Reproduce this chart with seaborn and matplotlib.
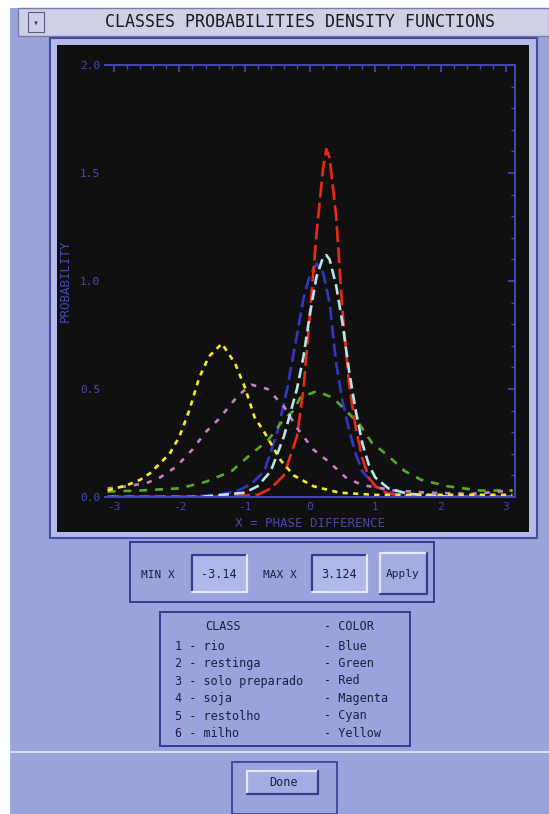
import numpy as np
import pandas as pd
import matplotlib
matplotlib.use("Agg")
import matplotlib.pyplot as plt
from matplotlib.patches import Rectangle
import seaborn as sns

# ----------------------------
# data
# ----------------------------
class_ids = ["1", "2", "3", "4", "5", "6"]
class_names = ["rio", "restinga", "solo preparado", "soja", "restolho", "milho"]
color_names = ["Blue", "Green", "Red", "Magenta", "Cyan", "Yellow"]

x_rio = [-3.1, -2.0, -1.4, -1.1, -0.9, -0.7, -0.5, -0.35, -0.2, -0.1, 0.0, 0.1, 0.2, 0.3, 0.4, 0.5, 0.6, 0.7, 0.8, 1.0, 1.3, 2.0, 3.1]
y_rio = [0.0, 0.0, 0.01, 0.03, 0.06, 0.12, 0.30, 0.50, 0.75, 0.92, 1.03, 1.08, 1.04, 0.90, 0.62, 0.44, 0.31, 0.20, 0.12, 0.05, 0.015, 0.0, 0.0]

x_restinga = [-3.1, -2.6, -2.0, -1.6, -1.2, -0.9, -0.65, -0.4, -0.25, -0.15, 0.1, 0.35, 0.55, 0.75, 0.95, 1.2, 1.45, 1.7, 2.1, 2.6, 3.1]
y_restinga = [0.025, 0.03, 0.04, 0.07, 0.12, 0.20, 0.26, 0.36, 0.40, 0.46, 0.49, 0.46, 0.40, 0.34, 0.25, 0.19, 0.12, 0.08, 0.05, 0.03, 0.03]

x_solo = [-3.1, -1.6, -0.8, -0.6, -0.4, -0.2, -0.1, 0.0, 0.1, 0.2, 0.25, 0.3, 0.4, 0.5, 0.6, 0.7, 0.8, 0.9, 1.0, 1.2, 1.5, 2.2, 3.1]
y_solo = [0.0, 0.0, 0.01, 0.04, 0.10, 0.28, 0.50, 0.85, 1.22, 1.52, 1.61, 1.57, 1.30, 0.85, 0.52, 0.32, 0.18, 0.09, 0.05, 0.015, 0.005, 0.0, 0.0]

x_soja = [-3.1, -2.8, -2.5, -2.3, -2.05, -1.8, -1.6, -1.4, -1.1, -0.9, -0.65, -0.4, -0.2, 0.05, 0.3, 0.55, 0.8, 1.3, 1.8, 2.5, 3.1]
y_soja = [0.04, 0.05, 0.065, 0.09, 0.14, 0.22, 0.30, 0.36, 0.47, 0.52, 0.50, 0.42, 0.32, 0.22, 0.16, 0.09, 0.055, 0.03, 0.02, 0.015, 0.03]

x_restolho = [-3.1, -1.7, -1.0, -0.8, -0.6, -0.4, -0.2, -0.1, 0.0, 0.1, 0.2, 0.25, 0.3, 0.4, 0.5, 0.6, 0.7, 0.8, 0.9, 1.0, 1.2, 1.5, 2.2, 3.1]
y_restolho = [0.0, 0.0, 0.02, 0.05, 0.12, 0.28, 0.50, 0.65, 0.85, 1.02, 1.11, 1.12, 1.10, 0.98, 0.80, 0.58, 0.40, 0.25, 0.15, 0.09, 0.04, 0.015, 0.0, 0.0]

x_milho = [-3.1, -2.8, -2.6, -2.45, -2.15, -2.0, -1.85, -1.7, -1.55, -1.35, -1.15, -1.0, -0.85, -0.7, -0.45, -0.25, 0.05, 0.45, 1.0, 2.0, 3.1]
y_milho = [0.03, 0.055, 0.08, 0.11, 0.20, 0.28, 0.40, 0.55, 0.65, 0.71, 0.62, 0.51, 0.37, 0.30, 0.17, 0.10, 0.05, 0.02, 0.01, 0.01, 0.01]

x_ticks = [-3, -2, -1, 0, 1, 2, 3]
y_ticks = [0.0, 0.5, 1.0, 1.5, 2.0]
min_x_text = "-3.14"
max_x_text = "3.124"

# ----------------------------
# layout helpers (pixel -> figure fraction)
# ----------------------------
W, H = 549, 814
BG = "#9aa3dc"
AXIS_BLUE = "#4646b4"
INK = "#1e1e40"
FONT = ["DejaVu Sans Mono", "DejaVu Sans"]


def box(fig, x0, y0, x1, y1, **kw):
    r = Rectangle((x0 / W, 1 - y1 / H), (x1 - x0) / W, (y1 - y0) / H,
                  transform=fig.transFigure, zorder=-5, **kw)
    fig.patches.append(r)
    return r


def label(fig, x, y, s, **kw):
    kw.setdefault("family", FONT)
    fig.text(x / W, 1 - y / H, s, **kw)


def bevel(fig, x0, y0, x1, y1, dark, light, lw=1.6):
    # sunken / raised edges of the old GUI widgets
    tf = fig.transFigure
    fx0, fx1, fy0, fy1 = x0 / W, x1 / W, 1 - y0 / H, 1 - y1 / H
    fig.add_artist(plt.Line2D([fx0, fx0, fx1], [fy1, fy0, fy0], transform=tf, color=dark, linewidth=lw))
    fig.add_artist(plt.Line2D([fx0, fx1, fx1], [fy1, fy1, fy0], transform=tf, color=light, linewidth=lw))


sns.set_theme(style="dark")
plt.rcParams["font.family"] = FONT

fig = plt.figure(figsize=(W / 100, H / 100), dpi=100, facecolor="white")

# window body + title bar
box(fig, 10, 8, 549, 814, facecolor=BG, edgecolor="none")
box(fig, 18, 8, 549, 36, facecolor="#cfd0e6", edgecolor="#7c7ca8", linewidth=1)
box(fig, 28, 12, 44, 32, facecolor="#cfd0e6", edgecolor="#5a5a88", linewidth=0.8)
label(fig, 36, 23, "\u25be", fontsize=7, color="#404060", ha="center", va="center")
label(fig, 300, 22, "CLASSES PROBABILITIES DENSITY FUNCTIONS", fontsize=12,
      color="#1a1a1a", ha="center", va="center")
box(fig, 50, 38, 537, 538, facecolor="#b4bbe8", edgecolor="#4a4aa0", linewidth=1.5)
box(fig, 57, 45, 529, 532, facecolor="#101010", edgecolor="none")

# plot area
ax = fig.add_axes([105 / W, 1 - 497 / H, 410 / W, 432 / H])
ax.set_zorder(5)
ax.set_facecolor("#101010")

curves = [
    (x_rio, y_rio, "#3434c8", (0, (5, 2))),
    (x_restinga, y_restinga, "#5aa82a", (0, (3, 3))),
    (x_solo, y_solo, "#ec2a14", (0, (6, 2))),
    (x_soja, y_soja, "#c880c0", (0, (2, 3))),
    (x_restolho, y_restolho, "#b4e6ea", (0, (4, 2))),
    (x_milho, y_milho, "#f2ee24", (0, (2, 2))),
]
for xs, ys, col, ls in curves:
    sns.lineplot(x=xs, y=ys, ax=ax, color=col, linewidth=1.9, linestyle=ls)

ax.set_xlim(-3.14, 3.14)
ax.set_ylim(0, 2.0)
ax.set_xticks(x_ticks)
ax.set_xticklabels([str(t) for t in x_ticks])
ax.set_yticks(y_ticks)
ax.set_yticklabels([f"{t:.1f}" for t in y_ticks])
ax.minorticks_on()
ax.tick_params(which="both", direction="in", colors=AXIS_BLUE, labelcolor=AXIS_BLUE,
               top=True, right=True, labelsize=8, length=5)
ax.tick_params(which="minor", length=3)
ax.grid(False)
for side in ax.spines.values():
    side.set_color(AXIS_BLUE)
    side.set_linewidth(1.4)
ax.spines["left"].set_visible(False)
ax.set_xlabel("X = PHASE DIFFERENCE", color=AXIS_BLUE, fontsize=9, labelpad=4)
ax.set_ylabel("PROBABILITY", color=AXIS_BLUE, fontsize=9, labelpad=6)

# MIN / MAX / Apply panel
box(fig, 130, 542, 434, 602, facecolor="none", edgecolor="#3a3a90", linewidth=1.4)
label(fig, 158, 575, "MIN X", fontsize=8, color=INK, ha="center", va="center")
box(fig, 192, 555, 247, 592, facecolor="#b0b8ea", edgecolor="none")
bevel(fig, 192, 555, 247, 592, "#3a3a90", "#e4e8fa")
label(fig, 219, 574, min_x_text, fontsize=8.5, color=INK, ha="center", va="center")
label(fig, 280, 575, "MAX X", fontsize=8, color=INK, ha="center", va="center")
box(fig, 312, 555, 367, 592, facecolor="#b0b8ea", edgecolor="none")
bevel(fig, 312, 555, 367, 592, "#3a3a90", "#e4e8fa")
label(fig, 339, 574, max_x_text, fontsize=8.5, color=INK, ha="center", va="center")
box(fig, 380, 553, 427, 594, facecolor="#a4ace2", edgecolor="none")
bevel(fig, 380, 553, 427, 594, "#e4e8fa", "#3a3a90")
label(fig, 403, 574, "Apply", fontsize=8, color=INK, ha="center", va="center")

# class / colour legend
box(fig, 160, 612, 410, 746, facecolor="none", edgecolor="#3a3a90", linewidth=1.4)
label(fig, 205, 627, "CLASS", fontsize=8.5, color=INK, va="center")
label(fig, 324, 627, "- COLOR", fontsize=8.5, color=INK, va="center")
for i, (cid, name, cname) in enumerate(zip(class_ids, class_names, color_names)):
    y = 646 + i * 17.5
    label(fig, 175, y, f"{cid} - {name}", fontsize=8.5, color=INK, va="center")
    label(fig, 324, y, f"- {cname}", fontsize=8.5, color=INK, va="center")

# Done button
fig.add_artist(plt.Line2D([10 / W, 1], [1 - 752 / H] * 2, transform=fig.transFigure,
                          color="#d6daf4", linewidth=1.5))
box(fig, 232, 762, 337, 814, facecolor="none", edgecolor="#3a3a90", linewidth=1.2)
box(fig, 247, 771, 318, 794, facecolor="#a4ace2", edgecolor="none")
bevel(fig, 247, 771, 318, 794, "#e4e8fa", "#3a3a90")
label(fig, 283, 783, "Done", fontsize=8.5, color=INK, ha="center", va="center")

fig.savefig("out.png", dpi=100, facecolor=fig.get_facecolor())
